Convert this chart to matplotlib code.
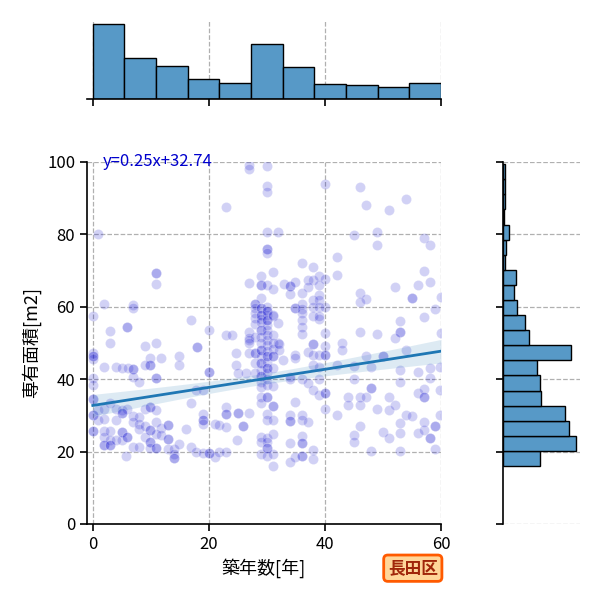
import numpy as np
import matplotlib
matplotlib.use("Agg")
import matplotlib.pyplot as plt

plt.rcParams['font.family'] = ['Noto Sans CJK JP', 'DejaVu Sans']

# === Data: (築年数, 専有面積) ===
points = [
    # upper part
    (26.9, 99.3), (26.9, 98.1), (22.9, 87.5), (0.9, 80.0), (10.9, 69.2), (10.9, 69.2), (10.9, 66.2),
    (29, 68.5), (26.9, 66.5), (29, 66.1), (29, 66.1), (29, 62.4), (1.9, 60.8), (6.9, 60.4), (6.9, 59.8),
    (0, 57.4), (17, 56.4), (5.9, 54.4), (5.9, 54.4), (2.9, 53.2), (20, 53.7), (22.9, 52.1), (23.9, 52.1),
    (26.9, 53), (27.9, 60.7), (27.9, 60.7), (27.9, 59.6), (27.9, 58.2), (27.9, 56.8), (27.9, 55.2),
    (29, 59.6), (29, 59.6), (29, 57.7), (29, 57.7), (29, 56.5), (29, 55.9), (29, 53.6), (29, 53.6), (29, 51.7),
    (26.9, 51.3), (27.9, 51.7), (27, 50.8),
    (30, 99), (30, 93.4), (30, 91.8), (40, 93.9), (46, 93.1), (47, 88.1), (51.1, 86.7), (54, 89.8),
    (30, 80.8), (31.9, 80.6), (45, 79.8), (48.9, 80.7), (48.9, 77), (57.1, 78.9), (58.1, 77),
    (30, 75.9), (30, 75.9), (30, 74.8), (36, 72), (37.9, 71.1), (42.1, 73.7), (31, 69.5), (30, 66.1),
    (32.9, 66.3), (33.9, 65.7), (33.9, 65.7), (34.9, 66.8), (33.9, 63.5), (37, 67.4), (37.9, 67.4),
    (39, 68.5), (40, 67.6), (37, 65.6), (39, 66.1), (42.1, 68.7), (36, 63.9), (31, 64.8), (39, 63.3),
    (37.9, 62), (39, 62), (37.9, 60), (39, 60), (40, 60), (34.9, 59.8), (34.9, 59.8), (36, 60.9),
    (36, 59.3), (36, 58.2), (36, 56.3), (36, 54.5), (36, 52.6), (37.9, 57.4), (39, 56.5), (39, 57.4),
    (30, 60), (30, 58.9), (30, 57.7), (30, 56.3), (30, 54.9), (30, 53.5), (30, 52.2), (30, 50.8),
    (30, 58.9), (30, 56.3), (31, 57.4), (31, 57.7), (31, 52.2), (31.9, 55.4), (40, 52.8),
    (46, 63.7), (47, 62.2), (46, 61.2), (46, 53), (48.9, 52.6), (52, 65.4), (52.9, 56.1), (52.9, 53),
    (52.9, 53), (52, 51.4), (55, 62.3), (55, 62.3), (56, 66), (57.1, 70), (58.1, 66.9), (59, 59.4),
    (57.1, 57.1), (60, 62.8), (60, 52.8),
    # lower left part
    (2.9, 49.9), (9, 49.1), (10.9, 49.9), (17.9, 48.9), (17.9, 48.9), (14.9, 46.3), (14.9, 44),
    (9.9, 45.9), (9.9, 44), (9.9, 44), (11.8, 45.9), (0, 47.1), (0, 46.3), (0, 45.6), (0, 46.3),
    (1.9, 43.5), (4, 43.5), (5, 43.1), (6, 43.1), (6.9, 42.8), (6.9, 42.8), (9, 44), (10.9, 40.3),
    (10.9, 40.3), (6.9, 40.7), (7.9, 39.3), (0, 40.3), (0, 38.4), (20, 41.9), (20, 41.9), (17.8, 37),
    (19, 37), (17, 33.5), (24.7, 47.3), (24.7, 44), (26.9, 47.3), (27.9, 47.3), (27.9, 47.3), (26.9, 50),
    (29, 50), (29, 48.2), (29, 46.3), (29, 44.5), (29, 42.6), (29, 40.9), (29, 39.3), (29, 37.9),
    (29, 48.2), (29, 44.5), (29, 40.9), (27.9, 44.5), (27.9, 41.7), (26.4, 41.7), (25, 41.7),
    (29, 35.2), (29, 33.3), (0, 34.4), (0, 34.4), (0, 30), (0, 30), (0, 25.7), (0, 25.7),
    (0.9, 31.4), (1.9, 31.9), (0.9, 28.7), (1.9, 29.1), (2.9, 33.3), (4, 31.9), (5, 31.4), (5.9, 31.9),
    (5, 30.7), (5, 30.7), (6.9, 29.8), (7.9, 29.6), (9, 31.9), (9.9, 32.4), (9.9, 32.4), (10.9, 31.4),
    (6.9, 28.2), (7.9, 27.7), (7.9, 26.3), (9, 27), (9.9, 26), (9.9, 26), (10.9, 28.2), (11.8, 26.6),
    (12.9, 27.3), (12.9, 27.3), (10.9, 24.9), (11.8, 24.5), (1.9, 25.7), (1.9, 24), (1.9, 21.7),
    (1.9, 21.7), (2.9, 25.7), (2.9, 23.1), (2.9, 21.7), (2.9, 21.7), (5, 25.4), (5, 25.4), (5, 23.3),
    (5.9, 24), (5.9, 24), (4, 28.7), (4, 23.1), (6.9, 21.4), (7.9, 21.4), (9, 24), (9.9, 22.6),
    (9.9, 22.6), (9.9, 21), (10.9, 21), (10.9, 21), (12.9, 23.5), (12.9, 23.5), (12.9, 20.7), (14, 20.7),
    (14, 19.3), (14, 18.2), (14, 18.2), (14.9, 22.1), (16.1, 26.3), (17, 21.2), (17.8, 19.8), (19, 19.5),
    (20, 19.5), (20, 19.5), (21, 18.4), (21.8, 19.8), (22.9, 19.8), (19, 30.3), (19, 28.8), (19, 27.7),
    (19, 28.8), (21, 27.7), (21.8, 27.3), (22.9, 32.4), (22.9, 30.3), (22.9, 30.3), (22.9, 26.8),
    (25, 30.7), (25, 30.7), (25.9, 27), (25.9, 27), (26.9, 30.7), (24.9, 23.1), (5.7, 18.9),
    (29, 24), (29, 22.6), (29, 19.3),
    # lower right part
    (30, 49.5), (30, 47.7), (30, 46.3), (30, 44.7), (30, 43.1), (30, 41.7), (30, 40), (30, 38.4),
    (30, 46.3), (30, 43.1), (30, 35), (30, 35), (30, 30.3), (30, 28.8), (30, 23.8), (30, 22.6),
    (30, 21), (30, 21), (30, 18.9), (31, 50), (31, 48.4), (31, 46.3), (31, 46.3), (31, 43.1), (31, 38),
    (31, 32.6), (31, 32.6), (31, 28.8), (31, 24.9), (31, 19.3), (31, 16.1), (31.9, 49.9), (34.9, 46.8),
    (34.9, 45.8), (33.9, 30), (33.9, 28.5), (33.9, 28.5), (36, 30), (36, 28.8), (37, 28.2), (33.9, 22.3),
    (36, 24.2), (36, 22.3), (36, 22.3), (36, 18.9), (36, 18.9), (34.9, 18.4), (33.9, 17), (37.9, 20.5),
    (37.9, 18), (37.9, 49.6), (37.9, 49.6), (37, 47.4), (37.9, 46.8), (37.9, 44), (39, 43.5), (39, 40),
    (39, 35.6), (39, 46.7), (40, 49.1), (40, 46.8), (40, 46.8), (40, 36.3), (40, 36.3), (40, 31.9),
    (34.9, 33.8), (34, 40), (36, 40), (37, 38.9), (37.9, 37), (42.1, 30), (42.9, 50), (42.9, 48.2),
    (44, 35.2), (44, 33), (45, 40), (46, 35.2), (46, 33), (46, 27), (45, 24.5), (45, 22.6), (47.1, 35.2),
    (48, 37.5), (48, 37.5), (47, 46.3), (48, 43.5), (48.9, 31.9), (51.1, 31.4), (52, 32.8), (50, 46.5),
    (50, 46.5), (51.1, 35.2), (52.9, 27.9), (52.9, 25.1), (52.9, 42.6), (52.9, 39.3), (54, 48.2),
    (54, 30), (55, 29.8), (56.1, 42.1), (56.1, 36.3), (57.1, 37.2), (57.1, 35), (57.1, 35), (58.1, 43.1),
    (58.1, 40.3), (56.1, 25.1), (57.1, 25.9), (57.1, 28.2), (58.1, 23.8), (58.1, 23.8), (59, 27),
    (59, 27), (59, 20.7), (59.8, 37), (59.8, 43.5), (59.8, 30), (52.9, 20.1), (48, 20.1), (50, 25.4),
    (51.1, 23.8), (45, 43.7), (42.1, 44), (32, 48.2), (32, 49.8), (32.8, 45.4), (33.9, 40.7),
]
age = np.array([p[0] for p in points])
area = np.array([p[1] for p in points])

# regression shown on the chart
slope = 0.25
intercept = 32.74

# marginal histogram counts
age_edges = np.linspace(0, 60, 12)
age_counts = [119, 65, 52, 31, 25, 87, 50, 23, 22, 19, 26]
area_edges = np.linspace(16.0, 99.4, 21)
area_counts = [37, 73, 66, 62, 38, 37, 34, 68, 26, 22, 14, 11, 13, 2, 3, 6, 1, 2, 2, 2]

ward = '長田区'

# === Layout ===
fig = plt.figure(figsize=(6, 6), dpi=100)
ax = fig.add_axes([0.145, 0.1267, 0.59, 0.6033])
ax_top = fig.add_axes([0.145, 0.835, 0.59, 0.1317])
ax_right = fig.add_axes([0.8383, 0.1267, 0.128, 0.6033])

grid_kw = dict(color='#b0b0b0', linestyle='--', linewidth=0.9)
hist_color = '#5799c7'

# === Joint scatter ===
ax.scatter(age, area, s=52, color='mediumblue', alpha=0.18, edgecolor='white', linewidth=0.7, zorder=2)

# regression line + 95% band (full sample size taken from the histogram total)
n_all = sum(age_counts)
xg = np.linspace(0, 60, 100)
yg = slope * xg + intercept
resid = area - (slope * age + intercept)
s = np.sqrt(np.sum(resid ** 2) / (len(age) - 2))
sxx = n_all * age.var()
ci = 1.96 * s * np.sqrt(1 / n_all + (xg - age.mean()) ** 2 / sxx)
ax.fill_between(xg, yg - ci, yg + ci, color='#1f77b4', alpha=0.15, linewidth=0, zorder=3)
ax.plot(xg, yg, color='#1f77b4', linewidth=2, zorder=4)
ax.text(1.8, 100, f'y={slope:.2f}x+{intercept:.2f}', color='mediumblue', fontsize=12, va='center')

ax.set_xlim(-1, 60)
ax.set_ylim(0, 100)
ax.set_xticks([0, 20, 40, 60])
ax.set_yticks([0, 20, 40, 60, 80, 100])
ax.grid(True, **grid_kw)
ax.set_axisbelow(True)
for side in ['top', 'right']:
    ax.spines[side].set_visible(False)
for side in ['left', 'bottom']:
    ax.spines[side].set_linewidth(1.2)
ax.tick_params(labelsize=12, length=5, width=1.2)
ax.set_xlabel('築年数[年]', fontsize=13)
ax.set_ylabel('専有面積[m2]', fontsize=13)

# === Top marginal ===
ax_top.bar(age_edges[:-1], age_counts, width=np.diff(age_edges), align='edge',
           color=hist_color, edgecolor='black', linewidth=1, zorder=2)
ax_top.set_xlim(-1, 60)
ax_top.set_xticks([0, 20, 40, 60])
ax_top.tick_params(axis='x', labelbottom=False, length=5, width=1.2)
ax_top.set_yticks([])
ax_top.grid(True, axis='x', **grid_kw)
for side in ['top', 'right', 'left']:
    ax_top.spines[side].set_visible(False)
ax_top.spines['bottom'].set_linewidth(1.2)

# === Right marginal ===
ax_right.barh(area_edges[:-1], area_counts, height=np.diff(area_edges), align='edge',
              color=hist_color, edgecolor='black', linewidth=1, zorder=2)
ax_right.set_ylim(0, 100)
ax_right.set_yticks([0, 20, 40, 60, 80, 100])
ax_right.tick_params(axis='y', labelleft=False, length=5, width=1.2)
ax_right.set_xticks([])
ax_right.grid(True, axis='y', **grid_kw)
for side in ['top', 'right', 'bottom']:
    ax_right.spines[side].set_visible(False)
ax_right.spines['left'].set_linewidth(1.2)

# === Ward label ===
fig.text(0.688, 0.053, ward, fontsize=12, fontweight='bold', color='#a0260a',
         ha='center', va='center',
         bbox=dict(boxstyle='round,pad=0.25', facecolor='#ffd699', edgecolor='#ff5a00', linewidth=2))

plt.savefig('out.png', dpi=100)
